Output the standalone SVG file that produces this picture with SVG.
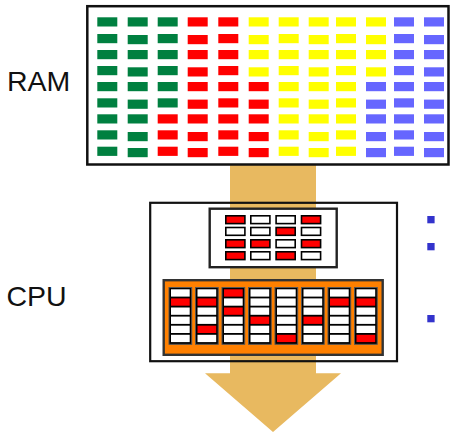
<svg xmlns="http://www.w3.org/2000/svg" width="451" height="432" viewBox="0 0 451 432">
<style>
.lbl{font-family:"Liberation Sans",Arial,sans-serif;font-size:28.5px;fill:#111}
.g{fill:#008040}.r{fill:#FF0000}.y{fill:#FFFF00}.b{fill:#6666FF}.w{fill:#FFFFFF}
.ram rect{width:20px;height:9.2px}
.reg{stroke:#000;stroke-width:1.6}
.col{fill:#000;stroke:#555;stroke-width:1}
.bul{fill:#3333CC}
</style>
<rect width="451" height="432" fill="#fff"/>
<g id="connectors">
<path d="M230 165 H316 V373.3 H341 L273 432 L205 373.3 H230 Z" fill="#E8B960"/>
</g>
<g id="ram-label"><text class="lbl" x="7" y="90.5">RAM</text></g>
<g id="cpu-label"><text class="lbl" x="6.5" y="305.5">CPU</text></g>
<g id="ram">
<rect x="87.3" y="6.2" width="361.2" height="158.3" fill="#fff" stroke="#111" stroke-width="2.5"/>
<g class="ram">
<rect class="g" x="97.3" y="17.3"/><rect class="g" x="127.7" y="17.3"/><rect class="g" x="157.7" y="17.3"/><rect class="r" x="187.7" y="17.3"/><rect class="r" x="218.3" y="17.3"/><rect class="y" x="248.7" y="17.3"/><rect class="y" x="278.7" y="17.3"/><rect class="y" x="308.7" y="17.3"/><rect class="y" x="336" y="17.3"/><rect class="y" x="366" y="17.3"/><rect class="b" x="394" y="17.3"/><rect class="b" x="424" y="17.3"/>
<rect class="g" x="97.3" y="34"/><rect class="g" x="127.7" y="35"/><rect class="g" x="157.7" y="34"/><rect class="r" x="187.7" y="35"/><rect class="r" x="218.3" y="34"/><rect class="y" x="248.7" y="35"/><rect class="y" x="278.7" y="34"/><rect class="y" x="308.7" y="35"/><rect class="y" x="336" y="34"/><rect class="y" x="366" y="35"/><rect class="b" x="394" y="34"/><rect class="b" x="424" y="35"/>
<rect class="g" x="97.3" y="50"/><rect class="g" x="127.7" y="50"/><rect class="g" x="157.7" y="50"/><rect class="r" x="187.7" y="50"/><rect class="r" x="218.3" y="50"/><rect class="y" x="248.7" y="50"/><rect class="y" x="278.7" y="50"/><rect class="y" x="308.7" y="50"/><rect class="y" x="336" y="50"/><rect class="y" x="366" y="50"/><rect class="b" x="394" y="50"/><rect class="b" x="424" y="50"/>
<rect class="g" x="97.3" y="66"/><rect class="g" x="127.7" y="67.3"/><rect class="g" x="157.7" y="66"/><rect class="r" x="187.7" y="67.3"/><rect class="r" x="218.3" y="66"/><rect class="y" x="248.7" y="67.3"/><rect class="y" x="278.7" y="66"/><rect class="y" x="308.7" y="67.3"/><rect class="y" x="336" y="66"/><rect class="y" x="366" y="67.3"/><rect class="b" x="394" y="66"/><rect class="b" x="424" y="67.3"/>
<rect class="g" x="97.3" y="82"/><rect class="g" x="127.7" y="82"/><rect class="g" x="157.7" y="82"/><rect class="r" x="187.7" y="82"/><rect class="r" x="218.3" y="82"/><rect class="r" x="248.7" y="82"/><rect class="y" x="278.7" y="82"/><rect class="y" x="308.7" y="82"/><rect class="y" x="336" y="82"/><rect class="b" x="366" y="82"/><rect class="b" x="394" y="82"/><rect class="b" x="424" y="82"/>
<rect class="g" x="97.3" y="98.3"/><rect class="g" x="127.7" y="99.6"/><rect class="g" x="157.7" y="98.3"/><rect class="r" x="187.7" y="99.6"/><rect class="r" x="218.3" y="98.3"/><rect class="r" x="248.7" y="99.6"/><rect class="y" x="278.7" y="98.3"/><rect class="y" x="308.7" y="99.6"/><rect class="y" x="336" y="98.3"/><rect class="b" x="366" y="99.6"/><rect class="b" x="394" y="98.3"/><rect class="b" x="424" y="99.6"/>
<rect class="g" x="97.3" y="114.3"/><rect class="g" x="127.7" y="114.3"/><rect class="r" x="157.7" y="114.3"/><rect class="r" x="187.7" y="114.3"/><rect class="r" x="218.3" y="114.3"/><rect class="r" x="248.7" y="114.3"/><rect class="y" x="278.7" y="114.3"/><rect class="y" x="308.7" y="114.3"/><rect class="y" x="336" y="114.3"/><rect class="b" x="366" y="114.3"/><rect class="b" x="394" y="114.3"/><rect class="b" x="424" y="114.3"/>
<rect class="g" x="97.3" y="130.3"/><rect class="g" x="127.7" y="132"/><rect class="r" x="157.7" y="130.3"/><rect class="r" x="187.7" y="132"/><rect class="r" x="218.3" y="130.3"/><rect class="r" x="248.7" y="132"/><rect class="y" x="278.7" y="130.3"/><rect class="y" x="308.7" y="132"/><rect class="y" x="336" y="130.3"/><rect class="b" x="366" y="132"/><rect class="b" x="394" y="130.3"/><rect class="b" x="424" y="132"/>
<rect class="g" x="97.3" y="146.7"/><rect class="g" x="127.7" y="148"/><rect class="r" x="157.7" y="146.7"/><rect class="r" x="187.7" y="148"/><rect class="r" x="218.3" y="146.7"/><rect class="r" x="248.7" y="148"/><rect class="y" x="278.7" y="146.7"/><rect class="y" x="308.7" y="148"/><rect class="y" x="336" y="146.7"/><rect class="b" x="366" y="148"/><rect class="b" x="394" y="146.7"/><rect class="b" x="424" y="148"/>
</g>
</g>
<g id="cpu">
<rect x="150.2" y="202.8" width="246.8" height="158.4" fill="none" stroke="#111" stroke-width="2.2"/>
</g>
<g id="registers">
<rect x="209.7" y="208.7" width="127" height="58.5" fill="#fff" stroke="#222" stroke-width="2.4"/>
<rect class="reg r" x="225.8" y="215.8" width="19.1" height="7.8"/><rect class="reg w" x="250.8" y="215.8" width="19.1" height="7.8"/><rect class="reg w" x="276.1" y="215.8" width="19.1" height="7.8"/><rect class="reg r" x="301.5" y="215.8" width="19.1" height="7.8"/>
<rect class="reg w" x="225.8" y="227.5" width="19.1" height="7.8"/><rect class="reg w" x="250.8" y="227.5" width="19.1" height="7.8"/><rect class="reg r" x="276.1" y="227.5" width="19.1" height="7.8"/><rect class="reg w" x="301.5" y="227.5" width="19.1" height="7.8"/>
<rect class="reg r" x="225.8" y="239.8" width="19.1" height="7.8"/><rect class="reg r" x="250.8" y="239.8" width="19.1" height="7.8"/><rect class="reg w" x="276.1" y="239.8" width="19.1" height="7.8"/><rect class="reg r" x="301.5" y="239.8" width="19.1" height="7.8"/>
<rect class="reg r" x="225.8" y="251.8" width="19.1" height="7.8"/><rect class="reg w" x="250.8" y="251.8" width="19.1" height="7.8"/><rect class="reg r" x="276.1" y="251.8" width="19.1" height="7.8"/><rect class="reg w" x="301.5" y="251.8" width="19.1" height="7.8"/>
</g>
<g id="alu">
<rect x="163.7" y="280.2" width="219" height="74.6" fill="#FF8000" stroke="#333" stroke-width="2.4"/>
<g id="alu-columns">
<rect class="col" x="169" y="287.5" width="22.7" height="56.8"/>
<rect class="col" x="195.5" y="287.5" width="22.7" height="56.8"/>
<rect class="col" x="222" y="287.5" width="22.7" height="56.8"/>
<rect class="col" x="248.5" y="287.5" width="22.7" height="56.8"/>
<rect class="col" x="275" y="287.5" width="22.7" height="56.8"/>
<rect class="col" x="301.5" y="287.5" width="22.7" height="56.8"/>
<rect class="col" x="328" y="287.5" width="22.7" height="56.8"/>
<rect class="col" x="354.5" y="287.5" width="22.7" height="56.8"/>
</g>
<g id="alu-cells">
<rect class="w" x="171" y="289.3" width="18.7" height="7.3"/><rect class="r" x="171" y="298.4" width="18.7" height="7.3"/><rect class="w" x="171" y="307.5" width="18.7" height="7.3"/><rect class="w" x="171" y="316.6" width="18.7" height="7.3"/><rect class="w" x="171" y="325.7" width="18.7" height="7.3"/><rect class="w" x="171" y="334.8" width="18.7" height="7.3"/>
<rect class="w" x="197.5" y="289.3" width="18.7" height="7.3"/><rect class="r" x="197.5" y="298.4" width="18.7" height="7.3"/><rect class="w" x="197.5" y="307.5" width="18.7" height="7.3"/><rect class="w" x="197.5" y="316.6" width="18.7" height="7.3"/><rect class="r" x="197.5" y="325.7" width="18.7" height="7.3"/><rect class="w" x="197.5" y="334.8" width="18.7" height="7.3"/>
<rect class="r" x="224" y="289.3" width="18.7" height="7.3"/><rect class="w" x="224" y="298.4" width="18.7" height="7.3"/><rect class="r" x="224" y="307.5" width="18.7" height="7.3"/><rect class="w" x="224" y="316.6" width="18.7" height="7.3"/><rect class="w" x="224" y="325.7" width="18.7" height="7.3"/><rect class="w" x="224" y="334.8" width="18.7" height="7.3"/>
<rect class="w" x="250.5" y="289.3" width="18.7" height="7.3"/><rect class="w" x="250.5" y="298.4" width="18.7" height="7.3"/><rect class="w" x="250.5" y="307.5" width="18.7" height="7.3"/><rect class="r" x="250.5" y="316.6" width="18.7" height="7.3"/><rect class="w" x="250.5" y="325.7" width="18.7" height="7.3"/><rect class="w" x="250.5" y="334.8" width="18.7" height="7.3"/>
<rect class="w" x="277" y="289.3" width="18.7" height="7.3"/><rect class="w" x="277" y="298.4" width="18.7" height="7.3"/><rect class="w" x="277" y="307.5" width="18.7" height="7.3"/><rect class="w" x="277" y="316.6" width="18.7" height="7.3"/><rect class="w" x="277" y="325.7" width="18.7" height="7.3"/><rect class="r" x="277" y="334.8" width="18.7" height="7.3"/>
<rect class="w" x="303.5" y="289.3" width="18.7" height="7.3"/><rect class="w" x="303.5" y="298.4" width="18.7" height="7.3"/><rect class="w" x="303.5" y="307.5" width="18.7" height="7.3"/><rect class="r" x="303.5" y="316.6" width="18.7" height="7.3"/><rect class="w" x="303.5" y="325.7" width="18.7" height="7.3"/><rect class="w" x="303.5" y="334.8" width="18.7" height="7.3"/>
<rect class="w" x="330" y="289.3" width="18.7" height="7.3"/><rect class="r" x="330" y="298.4" width="18.7" height="7.3"/><rect class="w" x="330" y="307.5" width="18.7" height="7.3"/><rect class="w" x="330" y="316.6" width="18.7" height="7.3"/><rect class="w" x="330" y="325.7" width="18.7" height="7.3"/><rect class="w" x="330" y="334.8" width="18.7" height="7.3"/>
<rect class="w" x="356.5" y="289.3" width="18.7" height="7.3"/><rect class="r" x="356.5" y="298.4" width="18.7" height="7.3"/><rect class="w" x="356.5" y="307.5" width="18.7" height="7.3"/><rect class="w" x="356.5" y="316.6" width="18.7" height="7.3"/><rect class="w" x="356.5" y="325.7" width="18.7" height="7.3"/><rect class="r" x="356.5" y="334.8" width="18.7" height="7.3"/>
</g>
</g>
<g id="bullets">
<rect class="bul" x="427.3" y="216" width="7.3" height="7.3"/>
<rect class="bul" x="427.3" y="243" width="7.3" height="7.3"/>
<rect class="bul" x="427.3" y="315" width="7.3" height="7.3"/>
</g>
</svg>
